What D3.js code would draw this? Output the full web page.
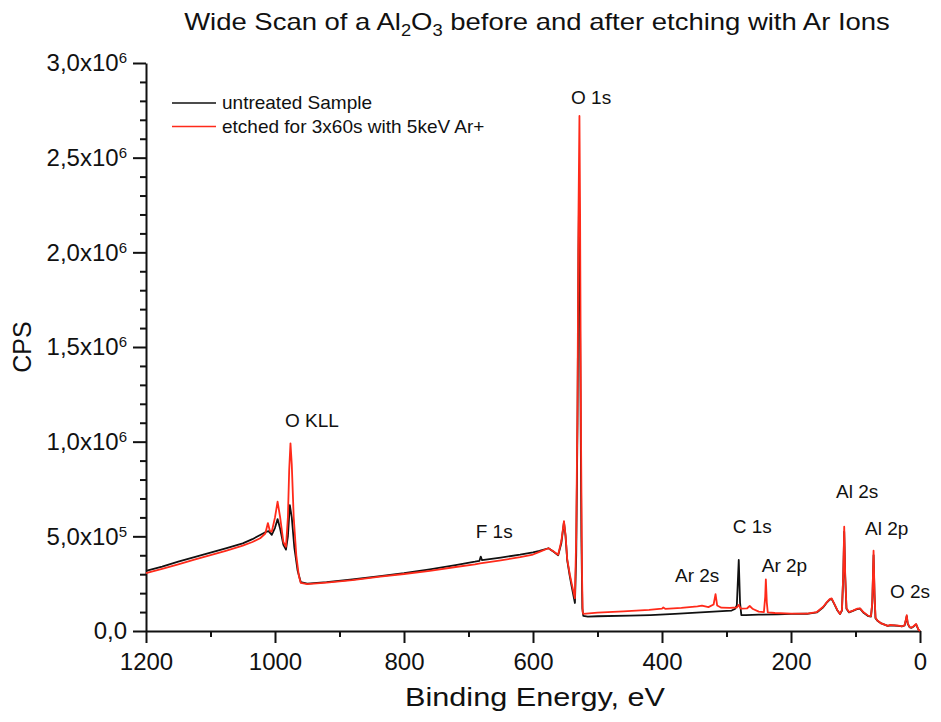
<!DOCTYPE html>
<html>
<head>
<meta charset="utf-8">
<script src="https://cdn.jsdelivr.net/npm/d3@7"></script>
<style>
  body { margin: 0; background: #fff; }
  text { font-family: "Liberation Sans", Arial, sans-serif; fill: #111; }
</style>
</head>
<body>
<svg id="canvas" width="941" height="722"></svg>
<script>
// ************************************************************************************** //
// Data

var x_ticks_major = [1200, 1000, 800, 600, 400, 200, 0];
var x_ticks_minor = [1100, 900, 700, 500, 300, 100];
var y_ticks_major = [0, 5e5, 1e6, 1.5e6, 2e6, 2.5e6, 3e6];

var series_names = ["untreated Sample", "etched for 3x60s with 5keV Ar+"];
var series_colors = ["#111111", "#ff2a1a"];

var energy_untreated = [
  1200, 1175, 1150, 1125, 1100, 1075, 1050, 1035, 1023, 1015,
  1010, 1005, 1000, 996, 992, 987, 983, 980, 977, 974,
  970, 965, 960, 950, 920, 880, 837, 800, 760, 720,
  690, 683, 681, 679, 650, 620, 600, 590, 576, 568,
  561, 556, 552, 549.5, 547, 543, 540, 535, 533, 531,
  529.5, 528.5, 527, 525, 523.5, 522, 515, 500, 450, 418,
  380, 340, 300, 292, 287, 284, 281, 279, 277, 270,
  250, 220, 200, 175, 160, 150, 145, 140, 137, 133,
  128, 124, 121, 119, 117.5, 116, 114, 110, 104, 97,
  93, 88, 80, 76, 74, 72, 70.5, 69, 66, 60,
  50, 46, 40, 33, 28, 24, 22, 20.6, 19, 16,
  13, 10, 6, 4, 2, 0
];
var cps_untreated = [
  317e3, 340e3, 366e3, 390e3, 414e3, 438e3, 463e3, 485e3, 507e3, 522e3,
  527e3, 508e3, 545e3, 591e3, 540e3, 455e3, 430e3, 500e3, 665e3, 600e3,
  440e3, 320e3, 258e3, 250e3, 258e3, 272e3, 290e3, 305e3, 325e3, 348e3,
  366e3, 371e3, 393e3, 374e3, 388e3, 403e3, 415e3, 423e3, 437e3, 418e3,
  400e3, 465e3, 575e3, 500e3, 375e3, 290e3, 234e3, 148e3, 400e3, 1.1e6,
  2.0e6, 2.3e6, 1.6e6, 500e3, 120e3, 80e3, 76e3, 78e3, 81e3, 84e3,
  90e3, 98e3, 106e3, 108e3, 116e3, 135e3, 375e3, 150e3, 84e3, 84e3,
  86e3, 88e3, 90e3, 91e3, 98e3, 125e3, 148e3, 166e3, 170e3, 143e3,
  108e3, 90e3, 108e3, 290e3, 525e3, 290e3, 118e3, 98e3, 106e3, 116e3,
  118e3, 98e3, 78e3, 76e3, 145e3, 400e3, 190e3, 68e3, 54e3, 40e3,
  27e3, 30e3, 29e3, 27e3, 24e3, 29e3, 55e3, 78e3, 38e3, 19e3,
  17e3, 24e3, 35e3, 19e3, 5e3, 0
];

var energy_etched = [
  1200, 1175, 1150, 1125, 1100, 1075, 1050, 1035, 1023, 1015,
  1011, 1008, 1005, 1000, 996, 992, 987, 983, 980, 978,
  976, 974, 971, 967, 963, 960, 950, 920, 880, 837,
  800, 760, 720, 690, 682, 650, 620, 600, 590, 576,
  568, 561, 556, 552, 549.5, 547, 543, 540, 535, 533,
  531, 529.5, 528, 527, 525.5, 524, 523, 522, 500, 460,
  420, 400, 398, 395, 370, 345, 338, 328, 320, 317,
  314.5, 308, 295, 284, 281, 278, 268, 264, 259, 250,
  242, 240, 239, 237.5, 236, 225, 200, 175, 160, 150,
  145, 140, 137, 133, 128, 124, 121, 119, 117.5, 116,
  114, 110, 104, 97, 93, 88, 80, 76, 74, 72,
  70.5, 69, 66, 60, 50, 46, 40, 33, 28, 24,
  22, 20.6, 19, 16, 13, 10, 6, 4, 2, 0
];
var cps_etched = [
  306e3, 328e3, 352e3, 377e3, 401e3, 425e3, 451e3, 470e3, 490e3, 515e3,
  570e3, 530e3, 524e3, 600e3, 683e3, 600e3, 470e3, 445e3, 600e3, 850e3,
  991e3, 880e3, 600e3, 400e3, 290e3, 254e3, 248e3, 256e3, 269e3, 287e3,
  301e3, 318e3, 338e3, 352e3, 357e3, 373e3, 390e3, 404e3, 418e3, 437e3,
  420e3, 403e3, 475e3, 580e3, 505e3, 380e3, 300e3, 250e3, 173e3, 500e3,
  1.2e6, 2.2e6, 2.72e6, 2.2e6, 1.0e6, 300e3, 100e3, 90e3, 97e3, 104e3,
  112e3, 118e3, 124e3, 117e3, 122e3, 130e3, 134e3, 126e3, 140e3, 195e3,
  135e3, 123e3, 122e3, 124e3, 138e3, 118e3, 120e3, 132e3, 116e3, 102e3,
  100e3, 180e3, 273e3, 150e3, 98e3, 95e3, 92e3, 92e3, 100e3, 128e3,
  150e3, 168e3, 172e3, 145e3, 110e3, 90e3, 110e3, 300e3, 551e3, 300e3,
  120e3, 100e3, 108e3, 118e3, 120e3, 100e3, 80e3, 78e3, 150e3, 424e3,
  200e3, 70e3, 55e3, 40e3, 27e3, 32e3, 30e3, 28e3, 25e3, 30e3,
  60e3, 84e3, 40e3, 20e3, 18e3, 25e3, 37e3, 20e3, 5e3, 0
];

// peak annotations (label start, baseline) in data units
var peak_labels = ["O KLL", "O 1s", "F 1s", "C 1s", "Ar 2s", "Ar 2p", "Al 2s", "Al 2p", "O 2s"];
var peak_label_ev = [984.5, 541, 688.8, 290.4, 379.8, 245.4, 130.2, 85.3, 46.5];
var peak_label_cps = [1.076e6, 2.783e6, 4.93e5, 5.18e5, 2.59e5, 3.13e5, 7.02e5, 5.07e5, 1.74e5];

// ************************************************************************************** //
// Create

var svg = d3.select('#canvas');

var xScale = d3.scaleLinear().domain([1200, 0]).range([146, 920]);
var yScale = d3.scaleLinear().domain([0, 3e6]).range([631, 63]);

// stretch a text element horizontally so it fills a given width
function fitWidth(sel, w) {
  var len = sel.node().getComputedTextLength();
  return w / len;
}

// title
var title = svg.append('text').attr('font-size', 24).attr('text-anchor', 'middle');
title.append('tspan').text('Wide Scan of a Al');
title.append('tspan').attr('font-size', 16).attr('dy', 6).text('2');
title.append('tspan').attr('dy', -6).text('O');
title.append('tspan').attr('font-size', 16).attr('dy', 6).text('3');
title.append('tspan').attr('dy', -6).text(' before and after etching with Ar Ions');
var sx = fitWidth(title, 706);
title.attr('transform', 'translate(537,30) scale(' + sx + ',1)');

// axes
var xAxis = svg.append('g').attr('transform', 'translate(0,631)');
xAxis.call(d3.axisBottom(xScale).tickValues(x_ticks_major).tickSize(12).tickSizeOuter(0).tickFormat(d3.format('d')));
var xMinor = svg.append('g').attr('transform', 'translate(0,631)');
xMinor.call(d3.axisBottom(xScale).tickValues(x_ticks_minor).tickSize(6).tickFormat(''));
xMinor.select('.domain').remove();

var yAxis = svg.append('g').attr('transform', 'translate(146,0)');
yAxis.call(d3.axisLeft(yScale).tickValues(y_ticks_major).tickSize(13).tickSizeOuter(0).tickFormat(''));
var y_minor = d3.range(1e5, 3e6, 1e5).filter(function(d) { return d % 5e5 !== 0; });
var yMinor = svg.append('g').attr('transform', 'translate(146,0)');
yMinor.call(d3.axisLeft(yScale).tickValues(y_minor).tickSize(6).tickFormat(''));
yMinor.select('.domain').remove();

svg.selectAll('.domain').attr('stroke', '#111').attr('stroke-width', 2);
svg.selectAll('.tick line').attr('stroke', '#111').attr('stroke-width', 2);

xAxis.selectAll('.tick text')
  .attr('font-size', 24).attr('fill', '#111')
  .attr('y', 39).attr('dy', 0);

// y tick labels like 2,5x10^6
yAxis.selectAll('.tick').each(function(d) {
  var t = d3.select(this).append('text')
    .attr('font-size', 24).attr('fill', '#111')
    .attr('text-anchor', 'end').attr('x', -19).attr('dy', '0.32em');
  if (d === 0) { t.text('0,0'); return; }
  var e = Math.floor(Math.log10(d) + 1e-9);
  var m = (d / Math.pow(10, e)).toFixed(1).replace('.', ',');
  t.append('tspan').text(m + 'x10');
  t.append('tspan').attr('font-size', 15).attr('dy', -8).text(e);
});

// axis titles
var xTitle = svg.append('text').attr('font-size', 26).attr('text-anchor', 'middle').text('Binding Energy, eV');
xTitle.attr('transform', 'translate(535,706) scale(' + fitWidth(xTitle, 260) + ',1)');
svg.append('text').attr('font-size', 25).attr('text-anchor', 'middle')
  .attr('transform', 'translate(31,347) rotate(-90)').text('CPS');

// spectra
var line = d3.line()
  .x(function(d) { return xScale(d[0]); })
  .y(function(d) { return yScale(d[1]); });

var data_untreated = energy_untreated.map(function(e, i) { return [e, cps_untreated[i]]; });
var data_etched = energy_etched.map(function(e, i) { return [e, cps_etched[i]]; });

svg.append('path').datum(data_untreated).attr('d', line)
  .attr('fill', 'none').attr('stroke', series_colors[0]).attr('stroke-width', 1.8).attr('stroke-linejoin', 'round');
svg.append('path').datum(data_etched).attr('d', line)
  .attr('fill', 'none').attr('stroke', series_colors[1]).attr('stroke-width', 1.8).attr('stroke-linejoin', 'round');

// peak labels
for (var i = 0; i < peak_labels.length; i++) {
  svg.append('text').attr('font-size', 19)
    .attr('x', xScale(peak_label_ev[i]))
    .attr('y', yScale(peak_label_cps[i]))
    .text(peak_labels[i]);
}

// legend
var legend = svg.append('g').attr('transform', 'translate(172,103)');
series_names.forEach(function(name, i) {
  legend.append('line').attr('x1', 0).attr('x2', 44).attr('y1', i * 23.5).attr('y2', i * 23.5)
    .attr('stroke', series_colors[i]).attr('stroke-width', 1.7);
  legend.append('text').attr('font-size', 19).attr('x', 50).attr('y', i * 23.5).attr('dy', '0.33em').text(name);
});
</script>
</body>
</html>
